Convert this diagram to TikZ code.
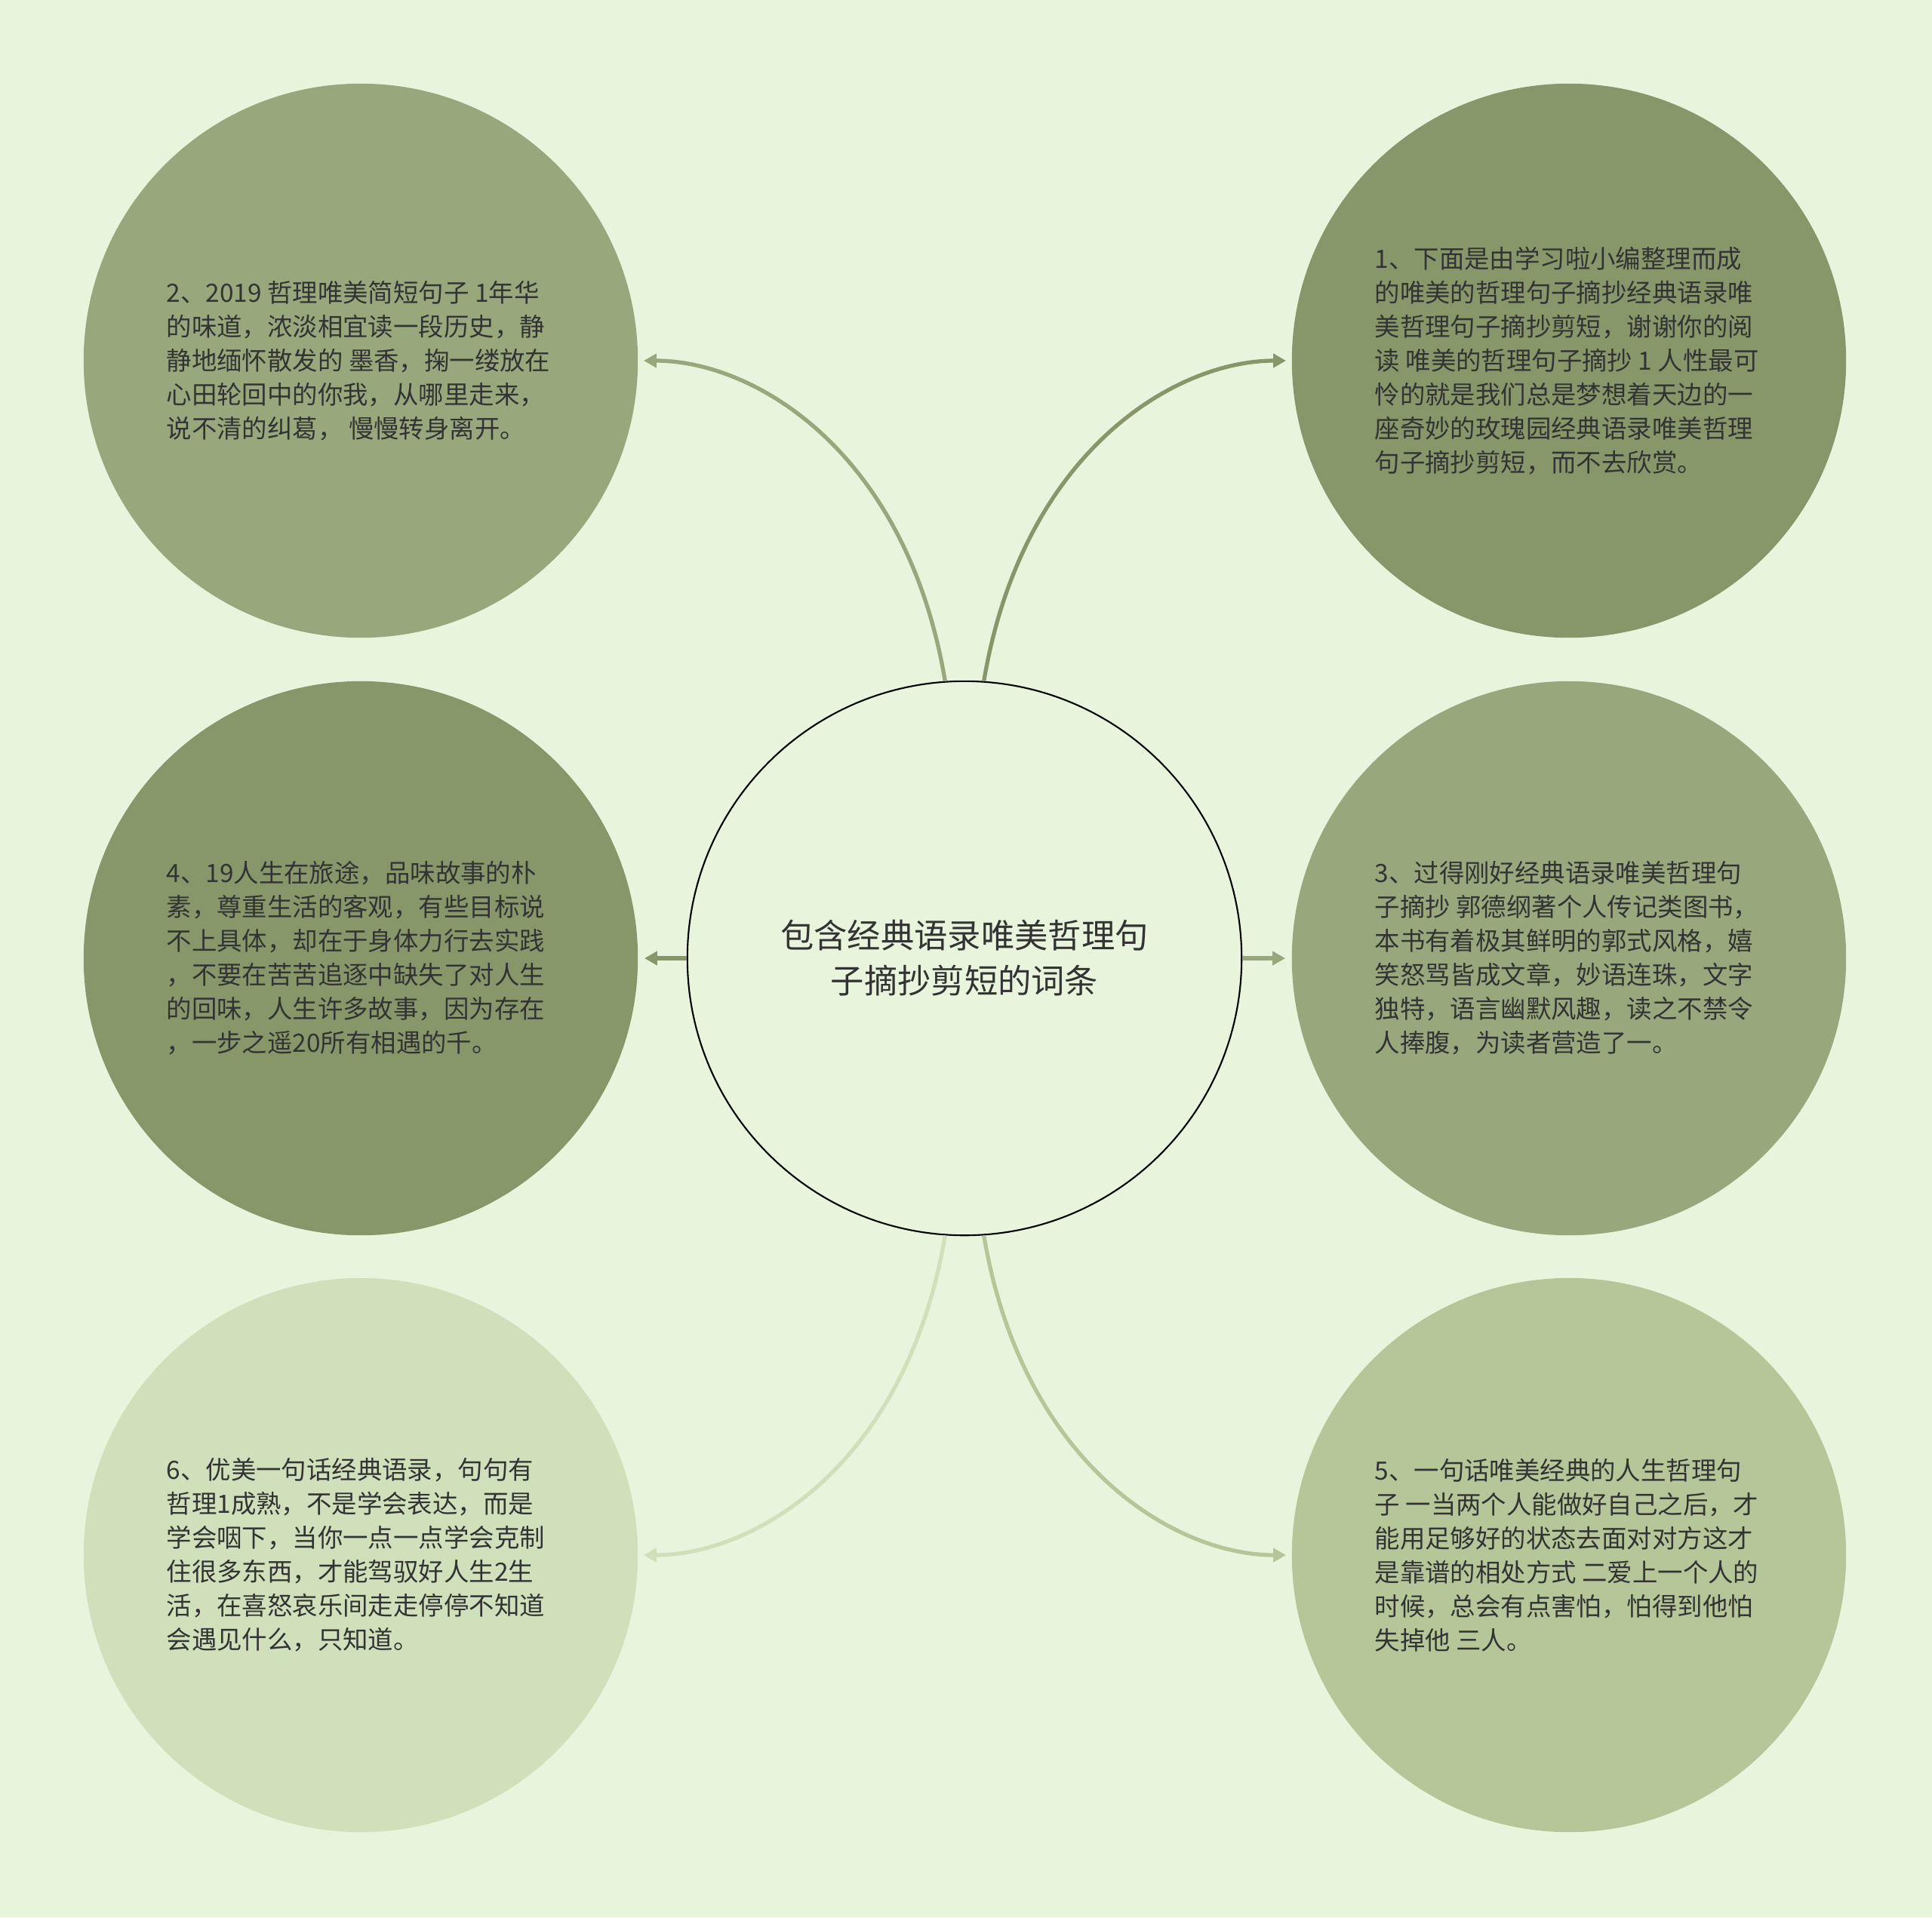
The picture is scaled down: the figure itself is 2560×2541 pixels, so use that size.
\documentclass[tikz,border=0pt]{standalone}
\usepackage{fontspec}
\setmainfont{Noto Sans CJK SC}
\usetikzlibrary{arrows.meta,calc}
\definecolor{bg}{RGB}{232,245,220}
\definecolor{cA}{RGB}{152,168,124}
\definecolor{cB}{RGB}{135,151,106}
\definecolor{cC}{RGB}{208,224,187}
\definecolor{cD}{RGB}{181,199,153}
\definecolor{txt}{RGB}{51,51,51}
\begin{document}
\begin{tikzpicture}[x=0.01cm,y=-0.01cm,
  leaf/.style={circle, minimum size=7.34cm, inner sep=0pt, draw=none},
  leaftext/.style={inner sep=0pt, align=left, anchor=west, text=txt,
    font=\fontsize{9.5pt}{12.8pt}\selectfont},
  hub/.style={circle, draw=black, line width=0.6pt, fill=bg, minimum size=7.34cm,
    inner sep=0pt, align=center, text=txt, font=\fontsize{12.6pt}{17.1pt}\selectfont},
  link/.style={line width=1.5pt, -{Triangle[length=0.17cm,width=0.18cm]}},
  straightlink/.style={line width=1.7pt, -{Triangle[length=0.17cm,width=0.18cm]}}
]
\fill[bg] (0,0) rectangle (2560,2541);
\useasboundingbox (0,0) rectangle (2560,2541);

% leaf circles
\node[leaf, fill=cA] (tl) at (478,478) {};
\node[leaf, fill=cB] (tr) at (2079,478) {};
\node[leaf, fill=cB] (ml) at (478,1270) {};
\node[leaf, fill=cA] (mr) at (2079,1270) {};
\node[leaf, fill=cC] (bl) at (478,2061) {};
\node[leaf, fill=cD] (br) at (2079,2061) {};

% texts
\node[leaftext] (tlt) at ($(tl.center)+(-258,0)$) {2、2019 哲理唯美简短句子 1年华\\的味道，浓淡相宜读一段历史，静\\静地缅怀散发的 墨香，掬一缕放在\\心田轮回中的你我，从哪里走来，\\说不清的纠葛， 慢慢转身离开。};
\node[leaftext] (trt) at ($(tr.center)+(-258,0)$) {1、下面是由学习啦小编整理而成\\的唯美的哲理句子摘抄经典语录唯\\美哲理句子摘抄剪短，谢谢你的阅\\读 唯美的哲理句子摘抄 1 人性最可\\怜的就是我们总是梦想着天边的一\\座奇妙的玫瑰园经典语录唯美哲理\\句子摘抄剪短，而不去欣赏。};
\node[leaftext] (mlt) at ($(ml.center)+(-258,0)$) {4、19人生在旅途，品味故事的朴\\素，尊重生活的客观，有些目标说\\不上具体，却在于身体力行去实践\\，不要在苦苦追逐中缺失了对人生\\的回味，人生许多故事，因为存在\\，一步之遥20所有相遇的千。};
\node[leaftext] (mrt) at ($(mr.center)+(-258,0)$) {3、过得刚好经典语录唯美哲理句\\子摘抄 郭德纲著个人传记类图书，\\本书有着极其鲜明的郭式风格，嬉\\笑怒骂皆成文章，妙语连珠，文字\\独特，语言幽默风趣，读之不禁令\\人捧腹，为读者营造了一。};
\node[leaftext] (blt) at ($(bl.center)+(-258,0)$) {6、优美一句话经典语录，句句有\\哲理1成熟，不是学会表达，而是\\学会咽下，当你一点一点学会克制\\住很多东西，才能驾驭好人生2生\\活，在喜怒哀乐间走走停停不知道\\会遇见什么，只知道。};
\node[leaftext] (brt) at ($(br.center)+(-258,0)$) {5、一句话唯美经典的人生哲理句\\子 一当两个人能做好自己之后，才\\能用足够好的状态去面对对方这才\\是靠谱的相处方式 二爱上一个人的\\时候，总会有点害怕，怕得到他怕\\失掉他 三人。};

% hub
\node[hub] (c) at (1278,1270) {包含经典语录唯美哲理句\\子摘抄剪短的词条};

% connectors
\draw[link, cA] (c.94) .. controls ($(c.94)+(-51,-303)$) and ($(tl.east)+(155,0)$) .. ($(tl.east)+(7,0)$);
\draw[link, cB] (c.86) .. controls ($(c.86)+(51,-303)$) and ($(tr.west)+(-155,0)$) .. ($(tr.west)+(-7,0)$);
\draw[link, cC] (c.266) .. controls ($(c.266)+(-51,303)$) and ($(bl.east)+(155,0)$) .. ($(bl.east)+(7,0)$);
\draw[link, cD] (c.274) .. controls ($(c.274)+(51,303)$) and ($(br.west)+(-155,0)$) .. ($(br.west)+(-7,0)$);
\draw[straightlink, cB] (c.west) -- ($(ml.east)+(8,0)$);
\draw[straightlink, cA] (c.east) -- ($(mr.west)+(-8,0)$);
\end{tikzpicture}
\end{document}
